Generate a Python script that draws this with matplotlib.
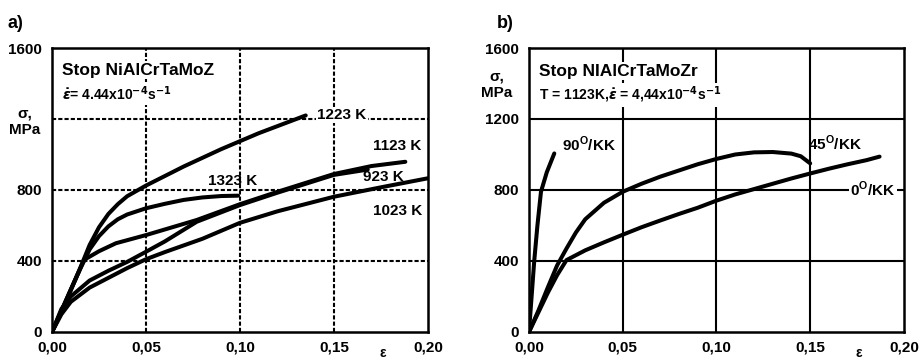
import numpy as np
import matplotlib.pyplot as plt

plt.rcParams['font.family'] = ['Liberation Sans', 'DejaVu Sans']
plt.rcParams['font.weight'] = 'bold'

# a) NiAlCrTaMoZr, different temperatures
eps_1223 = [0, 0.005, 0.01, 0.015, 0.02, 0.025, 0.03, 0.035, 0.04, 0.05, 0.07, 0.09, 0.11, 0.135]
sig_1223 = [0, 115, 235, 360, 490, 590, 665, 720, 765, 825, 932, 1030, 1120, 1220]

eps_1323 = [0, 0.005, 0.01, 0.015, 0.02, 0.025, 0.03, 0.035, 0.04, 0.05, 0.06, 0.07, 0.08, 0.09, 0.099]
sig_1323 = [0, 118, 238, 355, 465, 540, 595, 635, 662, 697, 722, 744, 758, 766, 768]

eps_1123 = [0, 0.005, 0.01, 0.017, 0.025, 0.034, 0.05, 0.077, 0.10, 0.12, 0.15, 0.17, 0.188]
sig_1123 = [0, 120, 240, 406, 455, 500, 546, 631, 720, 790, 890, 935, 959]

eps_923 = [0, 0.005, 0.01, 0.02, 0.03, 0.04, 0.05, 0.06, 0.077, 0.10, 0.12, 0.15, 0.168]
sig_923 = [0, 130, 200, 290, 345, 395, 452, 510, 621, 715, 785, 885, 915]

eps_1023 = [0, 0.005, 0.01, 0.02, 0.03, 0.04, 0.05, 0.06, 0.08, 0.10, 0.12, 0.15, 0.175, 0.20]
sig_1023 = [0, 100, 170, 250, 305, 360, 410, 450, 525, 615, 680, 762, 815, 866]

# b) T = 1123 K, different orientations
eps_90 = [0, 0.0028, 0.0045, 0.0064, 0.0095, 0.0135]
sig_90 = [0, 400, 600, 790, 900, 1006]

eps_45 = [0, 0.005, 0.01, 0.015, 0.02, 0.025, 0.03, 0.04, 0.05, 0.06, 0.07, 0.08,
          0.09, 0.10, 0.11, 0.12, 0.13, 0.14, 0.145, 0.15]
sig_45 = [0, 120, 250, 375, 470, 560, 635, 728, 790, 835, 875, 910,
          945, 975, 1000, 1012, 1014, 1005, 990, 950]

eps_0 = [0, 0.005, 0.01, 0.015, 0.02, 0.03, 0.04, 0.05, 0.06, 0.07, 0.08, 0.09, 0.10,
         0.11, 0.12, 0.13, 0.14, 0.15, 0.16, 0.17, 0.18, 0.187]
sig_0 = [0, 110, 220, 320, 405, 460, 505, 548, 590, 628, 665, 700, 740,
         775, 805, 835, 865, 893, 920, 945, 968, 988]

xticks = [0, 0.05, 0.10, 0.15, 0.20]
xtick_labels = ["0,00", "0,05", "0,10", "0,15", "0,20"]
yticks_a = [0, 400, 800, 1600]
yticks_b = [0, 400, 800, 1200, 1600]

fig = plt.figure(figsize=(9.19, 3.62), dpi=100)
ax1 = fig.add_axes([0.0566, 0.0829, 0.409, 0.7845])
ax2 = fig.add_axes([0.5756, 0.0829, 0.408, 0.7845])

lw = 2.9
box = dict(facecolor='white', edgecolor='none', pad=1)


def setup(ax, yticks, gridstyle):
    ax.set_xlim(0, 0.2)
    ax.set_ylim(0, 1600)
    ax.set_xticks(xticks)
    ax.set_xticklabels(xtick_labels, fontsize=11)
    ax.set_yticks(yticks)
    ax.set_yticklabels([str(v) for v in yticks], fontsize=11)
    ax.tick_params(axis='x', length=0, pad=6)
    ax.tick_params(axis='y', length=0, pad=7)
    for v in [0.05, 0.10, 0.15]:
        ax.axvline(v, color='black', lw=1.5, ls=gridstyle, zorder=1)
    for v in [400, 800, 1200]:
        ax.axhline(v, color='black', lw=1.5, ls=gridstyle, zorder=1)
    for s in ax.spines.values():
        s.set_linewidth(1.8)
    ax.text(0.176, -118, "ε", fontsize=10, ha='center', va='center')


# ---- a) ----
setup(ax1, yticks_a, (0, (2, 1)))
for e, s in [(eps_1223, sig_1223), (eps_1323, sig_1323), (eps_1123, sig_1123),
             (eps_923, sig_923), (eps_1023, sig_1023)]:
    ax1.plot(e, s, color='black', lw=lw, solid_capstyle='round', zorder=3)

ax1.text(0.0055, 1475, "Stop NiAlCrTaMoZ", fontsize=12.5, va='center', bbox=box, zorder=2)
ax1.text(0.0055, 1340, r"$\dot{\varepsilon}$= 4.44x10$^{-4}$s$^{-1}$", fontsize=10,
         va='center', bbox=box, zorder=2)
ax1.text(0.141, 1222, "1223 K", fontsize=11, va='center', bbox=box, zorder=4)
ax1.text(0.171, 1048, "1123 K", fontsize=11, va='center', zorder=4)
ax1.text(0.083, 851, "1323 K", fontsize=11, va='center', zorder=4)
ax1.text(0.1655, 875, "923 K", fontsize=11, va='center', zorder=4)
ax1.text(0.171, 682, "1023 K", fontsize=11, va='center', zorder=4)
ax1.text(-0.0145, 1185, "σ,\nMPa", fontsize=11, ha='center', va='center', linespacing=1.2)
fig.text(0.008, 0.935, "a)", fontsize=13, va='center')

# ---- b) ----
setup(ax2, yticks_b, '-')
for e, s in [(eps_90, sig_90), (eps_45, sig_45), (eps_0, sig_0)]:
    ax2.plot(e, s, color='black', lw=lw, solid_capstyle='round', zorder=3)

ax2.text(0.0055, 1470, "Stop NIAlCrTaMoZr", fontsize=12.5, va='center', bbox=box, zorder=2)
ax2.text(0.0055, 1335, r"T = 1123K,$\dot{\varepsilon}$ = 4,44x10$^{-4}$s$^{-1}$", fontsize=10,
         va='center', bbox=box, zorder=2)
ax2.text(0.0175, 1058, "90$^{\\mathregular{O}}$/KK", fontsize=11, va='center', zorder=4)
ax2.text(0.149, 1063, "45$^{\\mathregular{O}}$/KK", fontsize=11, va='center', zorder=4)
ax2.text(0.1715, 805, "0$^{\\mathregular{O}}$/KK", fontsize=11, va='center', bbox=box, zorder=4)
ax2.text(-0.017, 1392, "σ,\nMPa", fontsize=11, ha='center', va='center', linespacing=1.2)
fig.text(0.541, 0.935, "b)", fontsize=13, va='center')

fig.savefig("out.png", dpi=100)
